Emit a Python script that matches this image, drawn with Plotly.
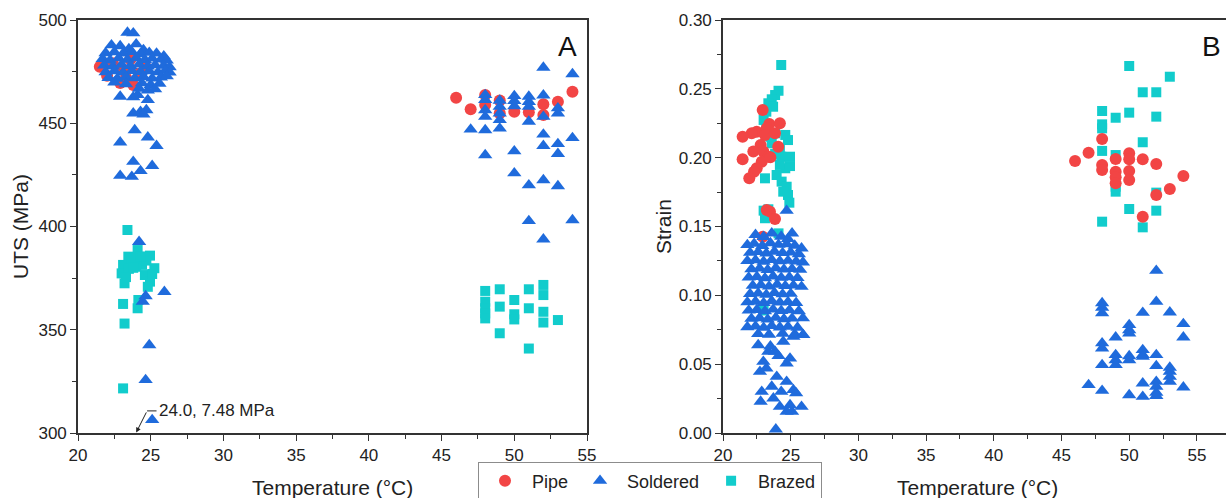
import plotly.graph_objects as go

# ---------------- Panel A: ultimate tensile strength ----------------
pipe_a_temp = [21.5, 22.9, 23.8, 22.4, 23.1, 23.6, 24.2, 22.0, 24.6, 23.3,
               46.0, 47.0, 48.0, 48.0, 49.0, 49.0, 50.0, 51.0, 52.0, 52.0, 53.0, 54.0]
pipe_a_uts = [477.4, 469.5, 468.5, 479.0, 476.0, 481.0, 474.0, 473.0, 478.0, 472.0,
              462.4, 456.8, 463.7, 458.8, 461.0, 454.8, 455.6, 455.3, 459.2, 454.0, 460.4, 465.3]

soldered_a_temp = [
    23.4, 23.8,
    22.3, 22.9, 23.5, 24.0, 24.5,
    21.9, 22.5, 23.1, 23.7, 24.3, 24.9, 25.4, 25.9,
    21.7, 22.2, 22.8, 23.4, 24.0, 24.6, 25.1, 25.7, 26.1,
    21.8, 22.4, 23.0, 23.6, 24.2, 24.8, 25.3, 25.9, 26.3,
    21.9, 22.5, 23.1, 23.7, 24.3, 24.9, 25.5, 26.0, 26.3,
    22.1, 22.7, 23.3, 23.9, 24.5, 25.1, 25.7, 26.1,
    22.5, 23.3, 24.4, 25.0, 25.6,
    24.2, 24.8, 25.3,
    22.9, 23.8, 24.8, 24.1, 23.8, 24.3, 24.7, 24.5, 23.9, 22.9, 24.8, 25.4,
    23.8, 25.1, 24.3, 22.9, 23.7,
    24.2, 24.65, 24.45, 25.94, 24.9, 24.65, 25.1,
    47.0,
    48.0, 48.0, 48.0, 48.0, 48.0, 48.0,
    49.0, 49.0, 49.0, 49.0, 49.0,
    50.0, 50.0, 50.0, 50.0, 50.0,
    51.0, 51.0, 51.0, 51.0, 51.0, 51.0,
    52.0, 52.0, 52.0, 52.0, 52.0, 52.0, 52.0,
    53.0, 53.0, 53.0, 53.0, 53.0,
    54.0, 54.0, 54.0]
soldered_a_uts = [
    493.9, 493.6,
    487.8, 487.4, 486.0, 488.3, 485.5,
    484.0, 484.5, 483.8, 484.6, 483.5, 484.2, 483.8, 482.5,
    481.2, 480.5, 481.5, 480.8, 481.6, 480.7, 481.4, 480.9, 480.4,
    478.0, 477.5, 478.4, 477.8, 478.5, 477.6, 478.2, 477.9, 477.2,
    474.8, 475.3, 474.6, 475.4, 474.9, 475.2, 474.7, 475.5, 474.6,
    472.0, 471.6, 472.4, 471.8, 472.5, 471.7, 472.2, 472.8,
    469.8, 469.0, 469.4, 468.6, 469.2,
    466.8, 465.9, 466.5,
    462.9, 462.6, 461.3, 463.7, 454.8, 455.6, 456.4, 454.3, 446.7, 440.8, 443.2, 439.1,
    431.4, 429.4, 426.9, 424.6, 424.1,
    392.6, 366.3, 363.6, 368.4, 342.6, 325.7, 306.3,
    447.0,
    463.7, 461.3, 456.4, 453.2, 446.7, 434.6,
    461.0, 458.0, 454.8, 451.6, 447.5,
    463.2, 460.8, 458.3, 436.5, 425.8,
    462.9, 460.4, 458.0, 450.8, 420.0, 402.7,
    477.0, 463.5, 453.2, 444.6, 439.1, 422.5, 393.8,
    457.3, 454.8, 440.0, 435.2, 419.6,
    473.8, 442.9, 403.1]

brazed_a_temp = [23.4, 24.1, 24.95, 23.46, 23.1, 23.0, 23.2, 23.7, 24.4, 24.6, 24.95,
                 25.25, 24.8, 24.0, 23.9, 23.5, 23.3, 24.7, 25.1, 24.3, 23.8,
                 23.1, 24.15, 24.1, 23.2, 23.1,
                 48.0, 48.0, 48.0, 48.0, 48.0, 49.0, 49.0, 49.0, 50.0, 50.0, 50.0,
                 51.0, 51.0, 51.0, 52.0, 52.0, 52.0, 52.0, 53.0]
brazed_a_uts = [398.3, 388.6, 385.9, 385.4, 381.4, 377.3, 372.5, 383.0, 381.4, 376.5, 373.3,
                379.8, 370.8, 380.5, 384.6, 379.5, 375.5, 383.5, 377.0, 385.5, 380.0,
                362.5, 364.4, 360.4, 353.0, 321.6,
                368.8, 363.6, 360.4, 357.9, 355.5, 369.6, 361.2, 348.3, 364.4, 357.5, 355.0,
                369.6, 360.4, 340.9, 371.7, 366.8, 358.7, 353.5, 354.7]

# ---------------- Panel B: strain ----------------
pipe_b_temp = [22.93, 23.42, 24.2, 23.23, 22.49, 22.12, 21.45, 23.1, 23.84, 22.78, 24.08,
               22.24, 22.98, 21.45, 23.35, 22.86, 23.5, 22.49, 22.29, 21.94, 23.23, 23.47,
               23.84, 22.93,
               46.0, 47.0, 48.0, 48.0, 48.0, 49.0, 49.0, 49.0, 49.0, 50.0, 50.0, 50.0, 50.0,
               51.0, 51.0, 52.0, 52.0, 53.0, 54.0]
pipe_b_strain = [0.2346, 0.2245, 0.2250, 0.2213, 0.2189, 0.2177, 0.2152, 0.2165, 0.2177, 0.2092,
                 0.2080, 0.2044, 0.2044, 0.1988, 0.2007, 0.1971, 0.2003, 0.1923, 0.1898, 0.1850,
                 0.1620, 0.1608, 0.1555, 0.1426,
                 0.1976, 0.2036, 0.2136, 0.1947, 0.1910, 0.1990, 0.1898, 0.1857, 0.1814,
                 0.2032, 0.1988, 0.1903, 0.1838, 0.1988, 0.1571, 0.1954, 0.1729, 0.1772, 0.1867]

soldered_b_temp = [
    22.4, 23.0, 23.6, 24.3, 24.8, 25.1,
    21.8, 22.3, 22.9, 23.5, 24.1, 24.7, 25.3, 25.8,
    22.0, 22.6, 23.2, 23.8, 24.4, 25.0, 25.6,
    21.8, 22.4, 23.0, 23.6, 24.2, 24.8, 25.4, 25.9,
    22.1, 22.7, 23.3, 23.9, 24.5, 25.1, 25.7,
    21.9, 22.5, 23.1, 23.7, 24.3, 24.9, 25.5,
    22.2, 22.8, 23.4, 24.0, 24.6, 25.2, 25.8,
    22.0, 22.6, 23.2, 23.8, 24.4, 25.0,
    21.8, 22.4, 23.0, 23.6, 24.2, 24.8, 25.4,
    21.9, 22.5, 23.1, 23.7, 24.3, 24.9, 25.6,
    22.1, 22.7, 23.3, 23.9, 24.5, 25.1, 25.9,
    21.8, 22.4, 23.0, 23.6, 24.2, 24.8, 25.5,
    22.6, 23.4, 24.4, 25.3, 25.9,
    22.6, 23.35, 23.84, 24.45, 25.2, 25.93, 22.98, 24.7, 24.95, 22.73, 23.97, 24.7,
    23.6, 25.2, 22.86, 22.78, 23.72, 24.2, 25.8, 25.1, 24.7, 24.95, 25.4, 23.9,
    24.1, 23.2, 24.3, 23.5, 24.7,
    47.0, 48.0, 48.0, 48.0, 48.0, 48.0, 48.0, 48.0,
    49.0, 49.0, 49.0, 49.0, 50.0, 50.0, 50.0, 50.0, 50.0, 50.0,
    51.0, 51.0, 51.0, 51.0, 51.0, 51.0, 52.0, 52.0, 52.0, 52.0, 52.0, 52.0, 52.0, 52.0,
    53.0, 53.0, 53.0, 53.0, 53.0, 54.0, 54.0, 54.0]
soldered_b_strain = [
    0.1440, 0.1425, 0.1451, 0.1427, 0.1410, 0.1451,
    0.1366, 0.1375, 0.1360, 0.1380, 0.1368, 0.1372, 0.1362, 0.1342,
    0.1310, 0.1315, 0.1305, 0.1318, 0.1308, 0.1312, 0.1300,
    0.1250, 0.1255, 0.1245, 0.1258, 0.1248, 0.1252, 0.1246, 0.1240,
    0.1190, 0.1195, 0.1185, 0.1198, 0.1188, 0.1192, 0.1186,
    0.1130, 0.1135, 0.1125, 0.1138, 0.1128, 0.1132, 0.1126,
    0.1070, 0.1075, 0.1065, 0.1078, 0.1068, 0.1072, 0.1063,
    0.1010, 0.1015, 0.1005, 0.1018, 0.1008, 0.1012,
    0.0950, 0.0955, 0.0945, 0.0958, 0.0948, 0.0952, 0.0946,
    0.0890, 0.0895, 0.0885, 0.0898, 0.0888, 0.0892, 0.0886,
    0.0830, 0.0835, 0.0825, 0.0838, 0.0828, 0.0832, 0.0834,
    0.0770, 0.0775, 0.0765, 0.0778, 0.0768, 0.0772, 0.0766,
    0.0720, 0.0715, 0.0722, 0.0718, 0.0712,
    0.0639, 0.0592, 0.0592, 0.0664, 0.0700, 0.0712, 0.0518, 0.0506, 0.0542, 0.0445, 0.0409, 0.0373,
    0.0337, 0.0313, 0.0300, 0.0228, 0.0252, 0.0191, 0.0191, 0.0155, 0.0155, 0.0203, 0.0289, 0.0027,
    0.0560, 0.0470, 0.0300, 0.0630, 0.1615,
    0.0349, 0.0944, 0.0910, 0.0870, 0.0652, 0.0615, 0.0494, 0.0307,
    0.0695, 0.0567, 0.0530, 0.0494, 0.0785, 0.0748, 0.0724, 0.0559, 0.0530, 0.0276,
    0.0874, 0.0603, 0.0567, 0.0555, 0.0361, 0.0264, 0.1179, 0.0954, 0.0567, 0.0487,
    0.0373, 0.0337, 0.0293, 0.0270,
    0.0877, 0.0475, 0.0446, 0.0409, 0.0373, 0.0792, 0.0695, 0.0332]

brazed_b_temp = [24.3, 24.1, 23.85, 23.6, 23.35, 23.7, 23.2, 23.0, 23.2, 23.5, 23.85, 23.6,
                 24.6, 24.8, 24.2, 24.3, 23.85, 24.95, 24.95, 24.6, 24.2, 23.96, 24.33, 24.7,
                 24.45, 24.8, 23.1, 24.9, 23.0, 23.1, 23.35, 23.0, 24.1,
                 50.0, 53.0, 51.0, 52.0, 48.0, 49.0, 50.0, 52.0, 48.0, 48.0, 51.0, 48.0,
                 49.0, 49.0, 49.0, 50.0, 52.0, 52.0, 48.0, 51.0]
brazed_b_strain = [0.2673, 0.2486, 0.2455, 0.2424, 0.2395, 0.2370, 0.2334, 0.2274, 0.2225,
                   0.2152, 0.2177, 0.2104, 0.2165, 0.2128, 0.2056, 0.2007, 0.2027, 0.2007,
                   0.1939, 0.1923, 0.1947, 0.1874, 0.1826, 0.1789, 0.1753, 0.1729, 0.1850,
                   0.1673, 0.1615, 0.1560, 0.1625, 0.0890, 0.1450,
                   0.2666, 0.2588, 0.2475, 0.2475, 0.2339, 0.2290, 0.2327, 0.2298, 0.2242,
                   0.2213, 0.2112, 0.2049, 0.2019, 0.1789, 0.1753, 0.1627, 0.1746, 0.1615,
                   0.1535, 0.1494]

RED = "#F24545"
BLUE = "#1F6BDC"
CYAN = "#12CCCC"
AXIS = "#333333"
FONT = "Liberation Sans, Arial, sans-serif"

series = [
    # name, colour, symbol, size, legend rank, panel A data, panel B data
    ("Brazed", CYAN, "square", 10, 3, brazed_a_temp, brazed_a_uts, brazed_b_temp, brazed_b_strain),
    ("Pipe", RED, "circle", 12, 1, pipe_a_temp, pipe_a_uts, pipe_b_temp, pipe_b_strain),
    ("Soldered", BLUE, "triangle-up", 12.5, 2, soldered_a_temp, soldered_a_uts,
     soldered_b_temp, soldered_b_strain),
]

fig = go.Figure()
for name, color, symbol, size, rank, ax_, ay_, bx_, by_ in series:
    marker = dict(color=color, symbol=symbol, size=size, line=dict(width=0))
    fig.add_trace(go.Scatter(x=ax_, y=ay_, mode="markers", name=name, marker=marker,
                             legendgroup=name, legendrank=rank, xaxis="x", yaxis="y"))
    fig.add_trace(go.Scatter(x=bx_, y=by_, mode="markers", name=name, marker=marker,
                             legendgroup=name, showlegend=False, xaxis="x2", yaxis="y2"))

W, H = 1226, 498
top_px, bottom_px = 20, 433
a_left, a_right = 78, 587
b_left = 723
y_dom = [1 - bottom_px / H, 1 - top_px / H]

tick_font = dict(family=FONT, size=17, color="#222222")
common_axis = dict(showline=True, linecolor=AXIS, linewidth=1.6, ticks="outside",
                   ticklen=6, tickwidth=1.4, tickcolor=AXIS, showgrid=False,
                   zeroline=False, tickfont=tick_font, automargin=False)

b_xmax = 20 + (W - b_left) / 13.54


def minor(dtick, tick0):
    return dict(dtick=dtick, tick0=tick0, ticks="outside", ticklen=4,
                tickwidth=1.2, tickcolor=AXIS)


fig.update_layout(
    width=W, height=H,
    margin=dict(l=0, r=0, t=0, b=0, autoexpand=False),
    paper_bgcolor="white", plot_bgcolor="white",
    font=dict(family=FONT, color="#222222"),
    xaxis=dict(domain=[a_left / W, a_right / W], range=[20, 55], dtick=5, tick0=20,
               mirror=True, anchor="y", minor=minor(2.5, 20), **common_axis),
    yaxis=dict(domain=y_dom, range=[300, 500], dtick=50, tick0=300, mirror=True,
               anchor="x", minor=minor(25, 300), **common_axis),
    xaxis2=dict(domain=[b_left / W, 1.0], range=[20, b_xmax], dtick=5, tick0=20,
                mirror=True, anchor="y2", minor=minor(2.5, 20), **common_axis),
    yaxis2=dict(domain=y_dom, range=[0, 0.30], dtick=0.05, tick0=0, tickformat=".2f",
                anchor="x2", minor=minor(0.025, 0), **common_axis),
    legend=dict(orientation="h", x=650 / W, xanchor="center", y=1 - 481 / H,
                yanchor="middle", bordercolor="#8c8c8c", borderwidth=1, bgcolor="white",
                font=dict(family=FONT, size=18, color="#222222"),
                itemwidth=44, tracegroupgap=0),
)

title_font = dict(family=FONT, size=21, color="#222222")


def paper_text(text, px, py, font, angle=0):
    return dict(text=text, x=px / W, y=1 - py / H, xref="paper", yref="paper",
                xanchor="center", yanchor="middle", textangle=angle,
                showarrow=False, font=font)


label_font = dict(family=FONT, size=28, color="#111111")
annotations = [
    paper_text("UTS (MPa)", 20, 227, title_font, -90),
    paper_text("Strain", 663, 227, title_font, -90),
    paper_text("Temperature (°C)", 332, 487, title_font),
    paper_text("Temperature (°C)", 977, 487, title_font),
    paper_text("A", 567, 46, label_font),
    paper_text("B", 1211, 46, label_font),
    # call-out for the soldered specimen that failed far below the axis floor
    dict(text="24.0, 7.48 MPa", x=25.45, y=310.7, xref="x", yref="y", xanchor="left",
         yanchor="middle", showarrow=False, font=dict(family=FONT, size=17, color="#222222")),
    dict(text="", x=24.0, y=300.2, xref="x", yref="y", ax=24.75, ay=310.7,
         axref="x", ayref="y", showarrow=True, arrowhead=2, arrowsize=1,
         arrowwidth=1, arrowcolor="#222222"),
]
fig.update_layout(annotations=annotations)
fig.add_shape(type="line", x0=24.75, x1=25.4, y0=310.7, y1=310.7, xref="x", yref="y",
              line=dict(color="#222222", width=1))

fig.write_html("out.html")
